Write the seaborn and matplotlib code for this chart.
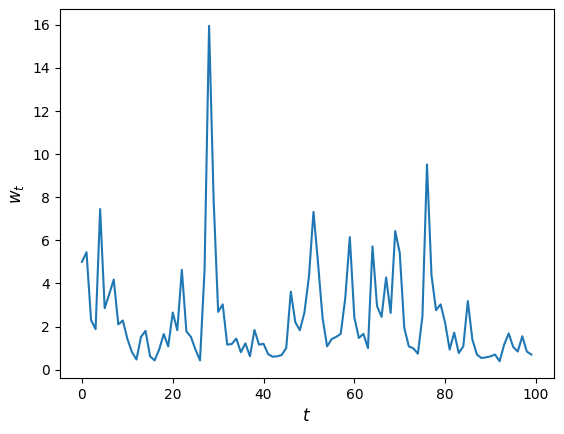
import numpy as np
import pandas as pd
import matplotlib
matplotlib.use("Agg")
import matplotlib.pyplot as plt
import seaborn as sns

t = list(range(100))
w = [5.0, 5.45, 2.3, 1.88, 7.45, 2.85, 3.5, 4.18, 2.1, 2.28,
     1.43, 0.82, 0.47, 1.52, 1.8, 0.62, 0.43, 0.93, 1.65, 1.08,
     2.65, 1.83, 4.63, 1.78, 1.52, 0.93, 0.43, 4.6, 15.95, 7.9,
     2.68, 3.03, 1.16, 1.19, 1.44, 0.81, 1.22, 0.62, 1.84, 1.16,
     1.2, 0.72, 0.6, 0.62, 0.68, 1.01, 3.62, 2.2, 1.83, 2.65,
     4.32, 7.32, 4.95, 2.4, 1.08, 1.42, 1.52, 1.66, 3.32, 6.15,
     2.42, 1.47, 1.66, 1.0, 5.72, 2.95, 2.45, 4.28, 2.63, 6.43,
     5.42, 1.94, 1.08, 0.99, 0.74, 2.48, 9.52, 4.37, 2.76, 3.03,
     2.17, 0.93, 1.72, 0.77, 1.08, 3.18, 1.4, 0.7, 0.54, 0.57,
     0.62, 0.7, 0.39, 1.16, 1.68, 1.05, 0.84, 1.55, 0.84, 0.7]

df = pd.DataFrame({"t": t, "w": w})

fig = plt.figure(figsize=(5.64, 4.34), dpi=100)
ax = fig.add_axes([0.1055, 0.129, 0.8765, 0.850])
sns.lineplot(data=df, x="t", y="w", ax=ax, color="#1f77b4", linewidth=1.5)
ax.set_xlabel("$t$", fontsize=12)
ax.set_ylabel("$w_t$", fontsize=12)
ax.set_xticks([0, 20, 40, 60, 80, 100])
ax.set_yticks([0, 2, 4, 6, 8, 10, 12, 14, 16])
fig.savefig("out.png", dpi=100)
